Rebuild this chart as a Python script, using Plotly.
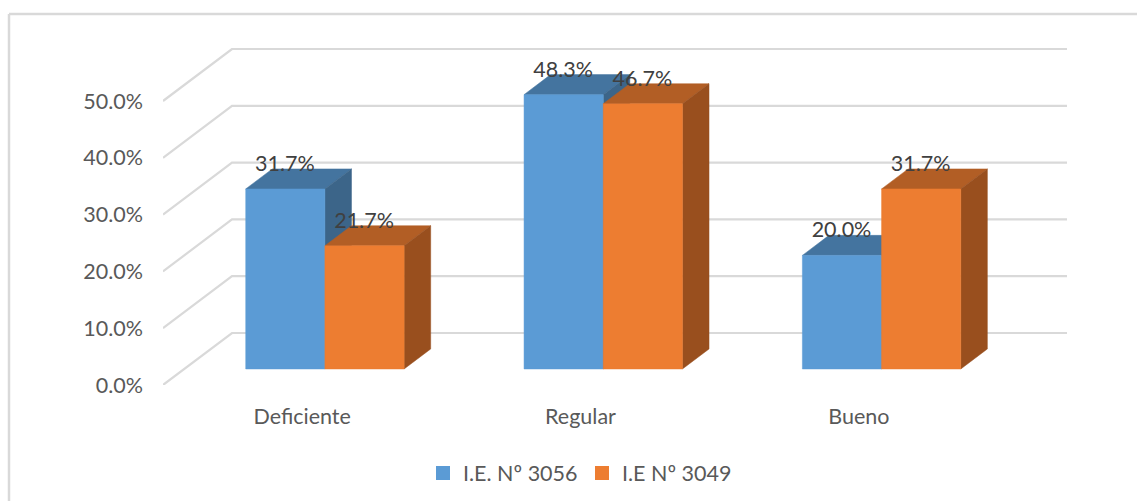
import plotly.graph_objects as go

categories = ["Deficiente", "Regular", "Bueno"]
series_names = ["I.E. Nº 3056", "I.E Nº 3049"]
ie_3056 = [31.7, 48.3, 20.0]
ie_3049 = [21.7, 46.7, 31.7]
y_ticks = [0, 10, 20, 30, 40, 50]

W, H = 1137, 501
ML, MR, MT, MB = 163, 70, 48, 116
PX_PER_CAT = (W - ML - MR - 69) / 3
PX_PER_PCT = 5.68
DX = 69 / PX_PER_CAT      # oblique depth, category units
DY = 52 / PX_PER_PCT      # oblique depth, percent units
D_FRONT, D_BACK = 0.308, 0.693
BAR_W = 79.2 / PX_PER_CAT
SHIFT = 1.5 / PX_PER_CAT

FONT = "Lato, Carlito, Calibri, sans-serif"
FSIZE = 21.5
GRID = "#d9d9d9"
COLORS = [
    {"front": "#5B9BD5", "top": "#44749F", "side": "#3C6589"},
    {"front": "#ED7D31", "top": "#B25E25", "side": "#994F1E"},
]


def proj(x, v, d):
    return x + d * DX, v + d * DY


def poly(fig, pts, color):
    xs = [p[0] for p in pts] + [pts[0][0]]
    ys = [p[1] for p in pts] + [pts[0][1]]
    fig.add_trace(go.Scatter(
        x=xs, y=ys, mode="lines", fill="toself", fillcolor=color,
        line=dict(color=color, width=0.5), hoverinfo="skip",
        showlegend=False, cliponaxis=False))


fig = go.Figure()

# walls: gridlines on side wall and back wall
for v in y_ticks:
    a = proj(-0.5, v, 0)
    b = proj(-0.5, v, 1)
    c = proj(2.5, v, 1)
    fig.add_trace(go.Scatter(
        x=[a[0], b[0], c[0]], y=[a[1], b[1], c[1]], mode="lines",
        line=dict(color=GRID, width=2.2), hoverinfo="skip",
        showlegend=False, cliponaxis=False))

# 3D bars
all_series = [ie_3056, ie_3049]
for i in range(len(categories)):
    for s, vals in enumerate(all_series):
        col = COLORS[s]
        v = vals[i]
        x0 = i + SHIFT + (s - 1) * BAR_W
        x1 = x0 + BAR_W
        poly(fig, [proj(x0, v, D_FRONT), proj(x1, v, D_FRONT),
                   proj(x1, v, D_BACK), proj(x0, v, D_BACK)], col["top"])
        poly(fig, [proj(x1, 0, D_FRONT), proj(x1, v, D_FRONT),
                   proj(x1, v, D_BACK), proj(x1, 0, D_BACK)], col["side"])
        poly(fig, [proj(x0, 0, D_FRONT), proj(x1, 0, D_FRONT),
                   proj(x1, v, D_FRONT), proj(x0, v, D_FRONT)], col["front"])

# data labels
for s, vals in enumerate(all_series):
    xs, ys, txt = [], [], []
    for i, v in enumerate(vals):
        x0 = i + SHIFT + (s - 1) * BAR_W
        px, py = proj(x0 + BAR_W / 2 - 0.5 / PX_PER_CAT, v + 23.5 / PX_PER_PCT, D_FRONT)
        xs.append(px)
        ys.append(py)
        txt.append(f"{v:.1f}%")
    fig.add_trace(go.Scatter(
        x=xs, y=ys, text=txt, mode="text", textposition="middle center",
        textfont=dict(family=FONT, size=FSIZE, color="#404040"),
        hoverinfo="skip", showlegend=False, cliponaxis=False))

# legend entries
for s, name in enumerate(series_names):
    fig.add_trace(go.Scatter(
        x=[None], y=[None], mode="markers", name=name,
        marker=dict(symbol="square", size=14, color=COLORS[s]["front"])))

plot_w = W - ML - MR
plot_h = H - MT - MB


def px_x(p):
    return (p - ML) / plot_w


def px_y(p):
    return (H - MB - p) / plot_h


fig.update_layout(
    width=W, height=H,
    margin=dict(l=ML, r=MR, t=MT, b=MB, pad=0),
    paper_bgcolor="white", plot_bgcolor="white",
    font=dict(family=FONT, size=FSIZE, color="#595959"),
    showlegend=True,
    legend=dict(
        orientation="h", xref="container", yref="container",
        x=423 / W, y=1 - 473 / H, xanchor="left", yanchor="middle",
        entrywidth=114, entrywidthmode="pixels", itemwidth=30,
        font=dict(family=FONT, size=FSIZE, color="#595959"),
        bgcolor="rgba(0,0,0,0)"),
    xaxis=dict(
        range=[-0.5, 2.5 + DX], tickmode="array", tickvals=[0, 1, 2],
        ticktext=categories, showgrid=False, zeroline=False, showline=False,
        ticks="", ticklabelstandoff=16, fixedrange=True),
    yaxis=dict(
        range=[0, plot_h / PX_PER_PCT], tickmode="array", tickvals=y_ticks,
        ticktext=[f"{t:.1f}%" for t in y_ticks], showgrid=False, zeroline=False,
        showline=False, ticks="", ticklabelstandoff=19, fixedrange=True),
    shapes=[
        dict(type="line", xref="paper", yref="paper", x0=px_x(9), x1=px_x(9),
             y0=px_y(14), y1=px_y(H), line=dict(color=GRID, width=2.5)),
        dict(type="line", xref="paper", yref="paper", x0=px_x(9), x1=px_x(W),
             y0=px_y(14), y1=px_y(14), line=dict(color=GRID, width=2.5)),
    ],
)

fig.write_html("out.html", config={"displayModeBar": False},
               post_script="document.body.style.margin='0';document.documentElement.style.overflow='hidden';")
